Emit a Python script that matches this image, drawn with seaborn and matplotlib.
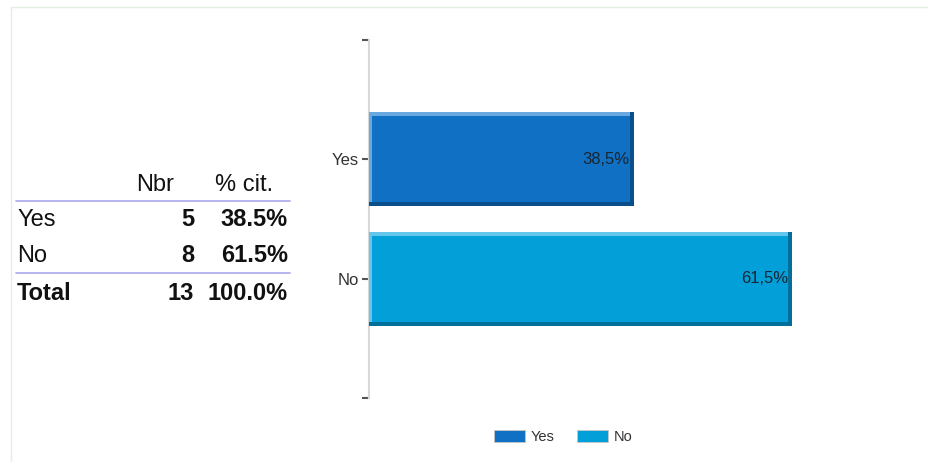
import numpy as np
import pandas as pd
import seaborn as sns
import matplotlib.pyplot as plt
from matplotlib.patches import Patch, Rectangle
from matplotlib.lines import Line2D

# data
answers = ["Yes", "No"]
counts = [5, 8]
pct = [38.5, 61.5]
bar_labels = ["38,5%", "61,5%"]
pct_labels = ["38.5%", "61.5%"]
total_count = 13
total_pct = "100.0%"

colors = ["#1070c4", "#039fd8"]
dark = ["#0a4f8c", "#026f9b"]
light = ["#6aa8e0", "#63c6ea"]

sns.set_style("white")
plt.rcParams["font.family"] = ["Liberation Sans", "DejaVu Sans"]

W, H = 929, 462
fig = plt.figure(figsize=(W / 100, H / 100), dpi=100)

def fx(px):
    return px / W

def fy(py):
    return 1 - py / H

# faint frame around the page
fig.add_artist(Line2D([fx(11), 1], [fy(7), fy(7)], color="#e4efe4", lw=1))
fig.add_artist(Line2D([fx(11), fx(11)], [fy(7), 0], color="#e4efe4", lw=1))

# ---- table on the left ----
fs = 17
fig.text(fx(155), fy(185), "Nbr", ha="center", va="center", fontsize=fs, color="#111")
fig.text(fx(244), fy(185), "% cit.", ha="center", va="center", fontsize=fs, color="#111")
fig.add_artist(Line2D([fx(16), fx(290)], [fy(201), fy(201)], color="#a9a9ea", lw=1.2))
for i, (a, c, p) in enumerate(zip(answers, counts, pct_labels)):
    y = fy(220 + 36 * i)
    fig.text(fx(17), y, a, ha="left", va="center", fontsize=fs, color="#111")
    fig.text(fx(194), y, str(c), ha="right", va="center", fontsize=fs, fontweight="bold", color="#111")
    fig.text(fx(288), y, p, ha="right", va="center", fontsize=fs, fontweight="bold", color="#111")
fig.add_artist(Line2D([fx(16), fx(290)], [fy(273), fy(273)], color="#a9a9ea", lw=1.2))
y = fy(293)
fig.text(fx(17), y, "Total", ha="left", va="center", fontsize=fs, fontweight="bold", color="#111")
fig.text(fx(194), y, str(total_count), ha="right", va="center", fontsize=fs, fontweight="bold", color="#111")
fig.text(fx(288), y, total_pct, ha="right", va="center", fontsize=fs, fontweight="bold", color="#111")

# ---- bar chart ----
ax_px = (369, 40, 792, 398)  # left, top, right, bottom in pixels
ax = fig.add_axes([fx(ax_px[0]), fy(ax_px[3]), fx(ax_px[2] - ax_px[0]), (ax_px[3] - ax_px[1]) / H])
df = pd.DataFrame({"answer": answers, "pct": pct})
sns.barplot(data=df, x="pct", y="answer", hue="answer", palette=colors,
            orient="h", width=0.79, legend=False, ax=ax, saturation=1)
ax.set_xlim(0, max(pct))
ax.set_ylim(2, -1)
ax.set_xlabel("")
ax.set_ylabel("")
ax.set_xticks([])
ax.set_yticks([-1, 0, 1, 2])
ax.set_yticklabels(["", "Yes", "No", ""], fontsize=12, color="#333")
ax.tick_params(axis="y", length=5, width=1.5, color="#555", left=True, pad=2)
for s in ["top", "right", "bottom"]:
    ax.spines[s].set_visible(False)
ax.spines["left"].set_color("#d8d8d8")
ax.spines["left"].set_linewidth(1.5)

# pixel size in data units, for the bevel strips
dx = max(pct) / (ax_px[2] - ax_px[0])
dy = 3.0 / (ax_px[3] - ax_px[1])
bev = 4

# bevel edges and value labels, taken from the drawn bars
for i, bar in enumerate(ax.patches):
    x0, w = bar.get_x(), bar.get_width()
    y0, h = bar.get_y(), bar.get_height()
    x1, y1 = x0 + w, y0 + h
    # top (light) and left (light)
    ax.add_patch(Rectangle((x0, y0), w, bev * dy, color=light[i], lw=0, zorder=3))
    ax.add_patch(Rectangle((x0, y0), 3 * dx, h, color=light[i], lw=0, zorder=3))
    # bottom (dark) and right (dark)
    ax.add_patch(Rectangle((x0, y1 - bev * dy), w, bev * dy, color=dark[i], lw=0, zorder=4))
    ax.add_patch(Rectangle((x1 - bev * dx, y0), bev * dx, h, color=dark[i], lw=0, zorder=4))
    ax.text(x1 - 4 * dx, y0 + h / 2, bar_labels[i], ha="right", va="center",
            fontsize=12, color="#1a2530", zorder=5)

handles = [Patch(facecolor=c, edgecolor="#c8c8c8", lw=0.6) for c in colors]
fig.legend(handles, answers, loc="center", bbox_to_anchor=(fx(563), fy(437)),
           ncol=2, frameon=False, fontsize=10.5, handlelength=2.15, handleheight=0.8,
           columnspacing=1.5, handletextpad=0.4, labelcolor="#333")

fig.savefig("out.png", dpi=100)
